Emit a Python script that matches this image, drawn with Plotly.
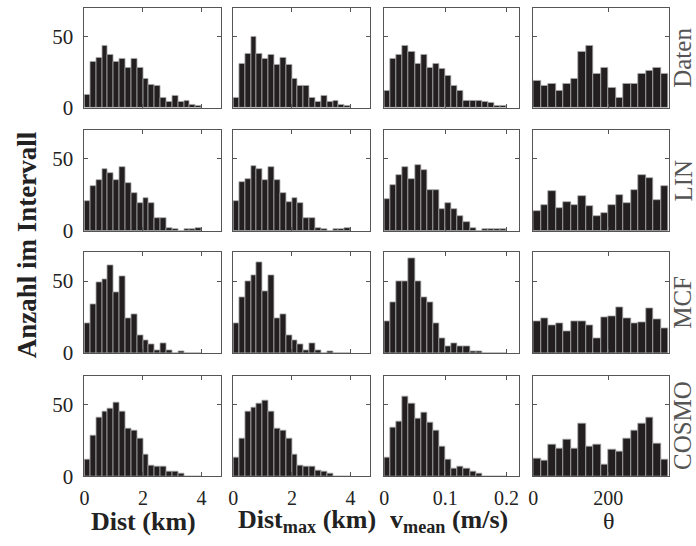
import plotly.graph_objects as go

W, H = 696, 546

# ---------------- data ----------------
dist_centers = [0.1 + 0.2 * k for k in range(20)]
vmean_centers = [0.005 + 0.01 * k for k in range(20)]
theta_centers = [10 + 20 * k for k in range(18)]

dist_daten = [9, 32, 35, 43, 37, 32, 34, 28, 34, 28, 20, 16, 15, 7, 4, 8, 4, 5, 2, 1]
distmax_daten = [7, 31, 38, 50, 38, 34, 37, 30, 35, 30, 20, 15.5, 15, 7, 4, 8, 4, 5, 2, 1]
vmean_daten = [12, 34, 37, 43, 39, 31, 37, 28, 31, 27, 22, 15, 12, 5, 4.5, 4.5, 4, 3, 1, 1]
theta_daten = [19, 15, 16.5, 12, 16.5, 20, 39, 43, 24, 28, 14, 7, 16.5, 16.5, 23.5, 26, 28, 24]

dist_lin = [20.5, 31, 35, 43, 40, 35, 44, 33, 26, 19, 23, 19, 9, 9, 2, 1, 0, 1, 1, 2]
distmax_lin = [21, 34, 36, 45, 43, 35, 44, 35, 26, 20, 23, 19, 9, 9, 2, 1, 0, 1, 1, 2]
vmean_lin = [22, 32, 39, 44, 36, 46, 42, 28, 28, 15, 19, 15, 10, 6, 2, 0, 1, 1, 1, 1]
theta_lin = [14, 18, 27.5, 16, 20, 18, 24, 17, 10.5, 12, 18, 25, 19.5, 28, 38.5, 36.5, 21.5, 31]

dist_mcf = [20.5, 34, 49.5, 51, 61, 42, 53, 24, 27, 12, 9, 6, 2, 7, 2, 0, 1.5, 0, 0, 0]
distmax_mcf = [20.5, 39, 50, 54, 63, 43, 54, 24, 27, 12, 9, 6, 2, 7, 2, 0, 1.5, 0, 0, 0]
vmean_mcf = [22, 35, 50, 50, 65.5, 50, 39, 35, 21, 10.5, 4.5, 7, 4.5, 4.5, 1.5, 1.5, 0, 0, 0, 0]
theta_mcf = [22, 24, 19.5, 20.5, 15, 22, 22, 19.5, 10.5, 25, 25.5, 32, 24, 20.5, 21.5, 31, 23.5, 17.5]

dist_cosmo = [11.5, 28.5, 41, 45, 47, 51, 45, 33, 31.5, 26, 15, 7.5, 6.5, 6.5, 3.4, 3.4, 1.6, 0, 0, 0]
distmax_cosmo = [13.3, 26, 45, 48, 50.5, 52.7, 45, 33, 31.5, 26, 15, 7.5, 6.5, 6.5, 4.3, 3.4, 1.6, 0, 0, 0]
vmean_cosmo = [13.3, 34, 38, 55.4, 50.5, 40, 44, 37, 32, 21, 11.5, 5.7, 6.5, 5.7, 3.4, 2, 0, 0, 0, 0]
theta_cosmo = [12, 11, 22.4, 19, 25.3, 19, 36.4, 20.6, 22.4, 8, 18.3, 17, 26.2, 32, 36.4, 40.5, 23, 11.5]

row_labels = ["Daten", "LIN", "MCF", "COSMO"]
col_titles = ["<b>Dist (km)</b>", "<b>Dist<sub>max</sub> (km)</b>",
              "<b>v<sub>mean</sub> (m/s)</b>", "θ"]
y_ticks = [0, 50]
y_range = [0, 70]
x_ticks = [[0, 2, 4], [0, 2, 4], [0, 0.1, 0.2], [0, 200]]
x_ticktext = [["0", "2", "4"], ["0", "2", "4"], ["0", "0.1", "0.2"], ["0", "200"]]
x_ranges = [[0, 4.68], [0, 4.68], [0, 0.221], [0, 362]]

centers = [dist_centers, dist_centers, vmean_centers, theta_centers]
widths = [0.2, 0.2, 0.01, 20]
grid = [
    [dist_daten, distmax_daten, vmean_daten, theta_daten],
    [dist_lin, distmax_lin, vmean_lin, theta_lin],
    [dist_mcf, distmax_mcf, vmean_mcf, theta_mcf],
    [dist_cosmo, distmax_cosmo, vmean_cosmo, theta_cosmo],
]

# ---------------- layout geometry (pixels) ----------------
col_px = [(80, 218), (230, 368), (382, 518), (532, 669)]
row_px = [(8, 110), (133, 236), (258, 361), (384, 487)]

FONT = "Liberation Serif"
BAR = "#231f20"
FRAME = "#555555"

fig = go.Figure()
layout = {}
for r in range(4):
    for c in range(4):
        idx = r * 4 + c + 1
        xa = "x" if idx == 1 else f"x{idx}"
        ya = "y" if idx == 1 else f"y{idx}"
        fig.add_trace(go.Bar(
            x=centers[c], y=grid[r][c], width=widths[c],
            marker=dict(color=BAR, line=dict(color="#a8a8a8", width=0.8)),
            xaxis=xa, yaxis=ya, showlegend=False, hoverinfo="skip",
        ))
        x0, x1 = col_px[c]
        y0, y1 = row_px[r]
        xkey = "xaxis" if idx == 1 else f"xaxis{idx}"
        ykey = "yaxis" if idx == 1 else f"yaxis{idx}"
        layout[xkey] = dict(
            domain=[x0 / W, x1 / W], anchor=ya, range=x_ranges[c],
            tickmode="array", tickvals=x_ticks[c], ticktext=x_ticktext[c],
            showticklabels=(r == 3), ticks="inside", ticklen=4,
            tickcolor=FRAME, showline=True, linecolor=FRAME, linewidth=1,
            mirror="ticks", showgrid=False, zeroline=False, fixedrange=True,
            tickfont=dict(family=FONT, size=20, color="#222222"),
            ticklabelstandoff=4,
        )
        layout[ykey] = dict(
            domain=[1 - y1 / H, 1 - y0 / H], anchor=xa, range=y_range,
            tickmode="array", tickvals=y_ticks,
            showticklabels=(c == 0), ticks="inside", ticklen=4,
            tickcolor=FRAME, showline=True, linecolor=FRAME, linewidth=1,
            mirror="ticks", showgrid=False, zeroline=False, fixedrange=True,
            tickfont=dict(family=FONT, size=21, color="#222222"),
            ticklabelstandoff=6,
        )

annotations = []
# column titles
title_x = [140, 304, 447, 608]
for c in range(4):
    annotations.append(dict(
        x=title_x[c] / W, y=1 - 533 / H, xref="paper", yref="paper",
        text=col_titles[c], showarrow=False, xanchor="center", yanchor="middle",
        font=dict(family=FONT, size=26 if c < 3 else 24, color="#222222"),
    ))
# row labels
for r in range(4):
    yc = (row_px[r][0] + row_px[r][1]) / 2
    annotations.append(dict(
        x=683 / W, y=1 - yc / H, xref="paper", yref="paper",
        text=row_labels[r], showarrow=False, textangle=-90,
        xanchor="center", yanchor="middle",
        font=dict(family=FONT, size=25, color="#555555"),
    ))
# y title
annotations.append(dict(
    x=22 / W, y=1 - 250 / H, xref="paper", yref="paper",
    text="<b>Anzahl im Intervall</b>", showarrow=False, textangle=-90,
    xanchor="center", yanchor="middle",
    font=dict(family=FONT, size=27, color="#222222"),
))

fig.update_layout(
    width=W, height=H,
    margin=dict(l=0, r=0, t=0, b=0),
    paper_bgcolor="white", plot_bgcolor="white",
    bargap=0, annotations=annotations,
    **layout,
)

fig.write_html("out.html", config={"displayModeBar": False})
